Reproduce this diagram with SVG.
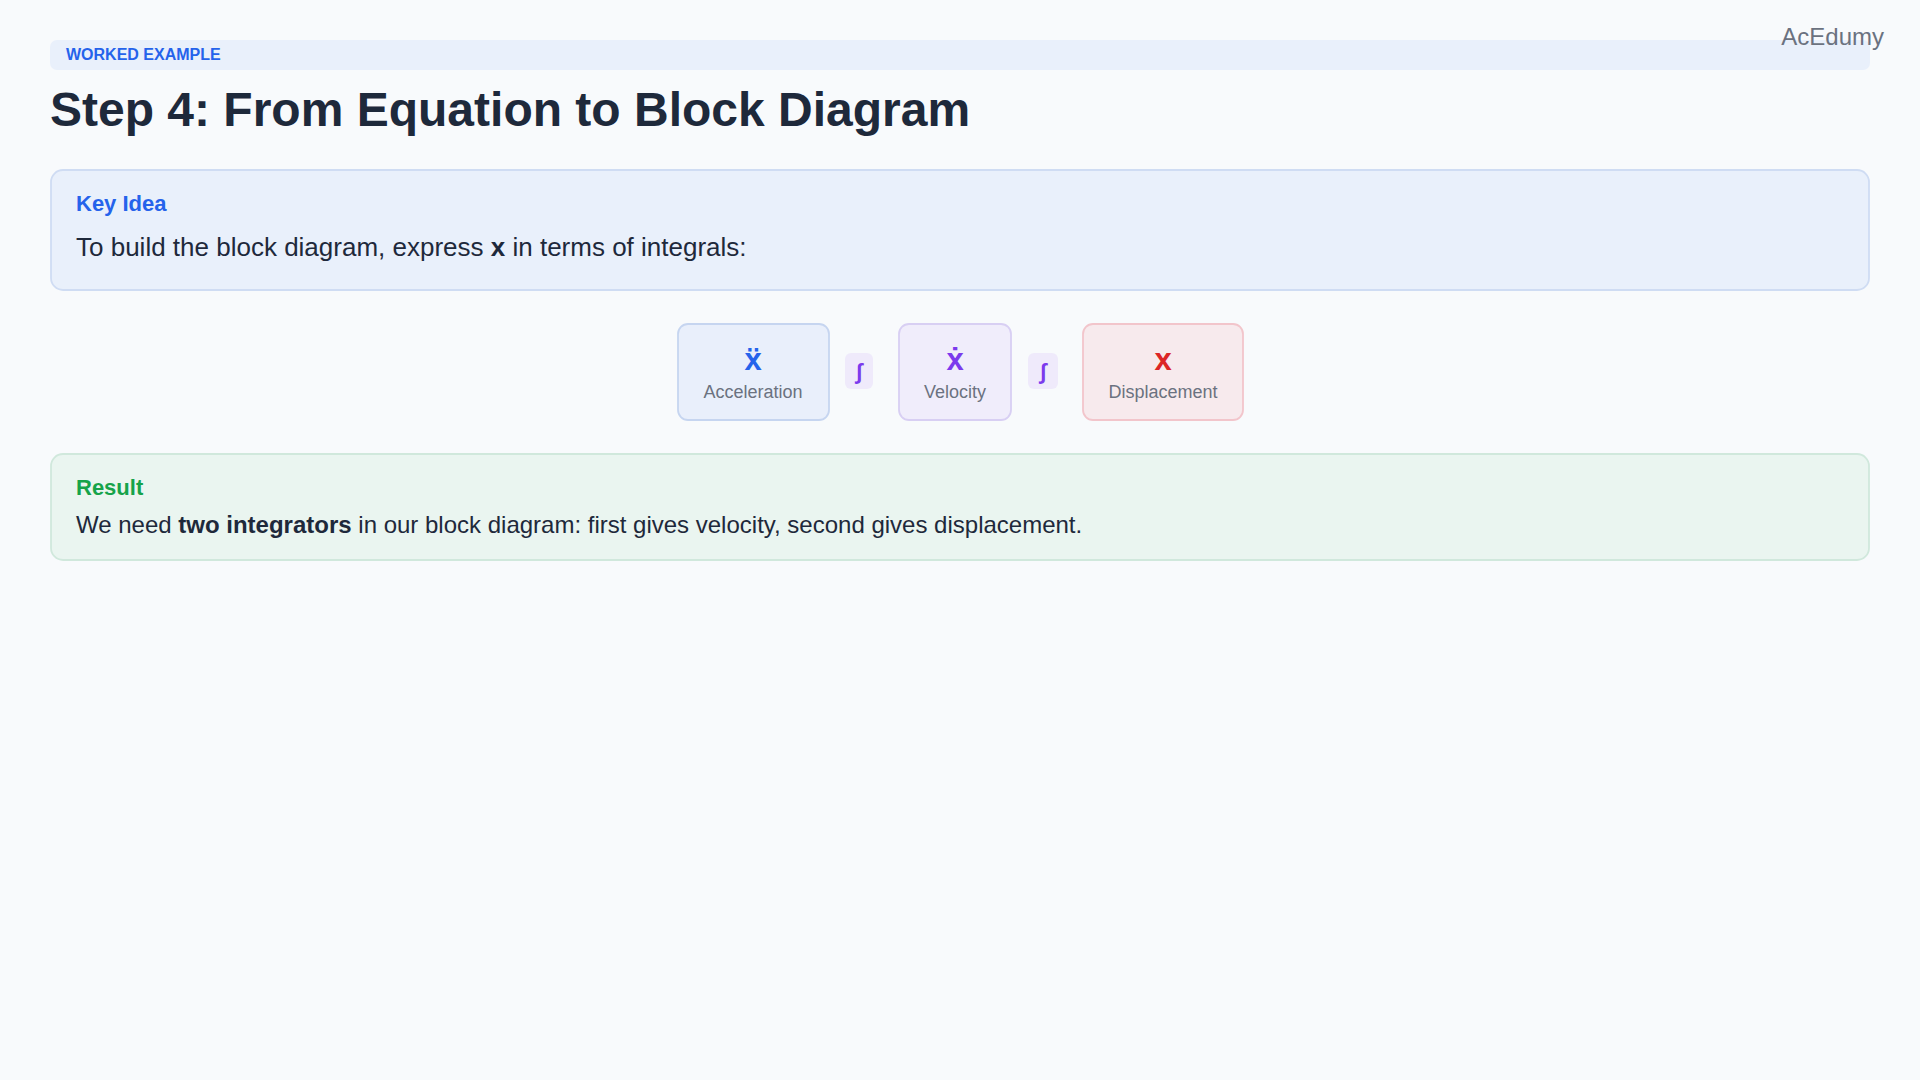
<svg xmlns="http://www.w3.org/2000/svg" width="1920" height="1080" viewBox="0 0 1920 1080">
<style>
text{font-family:"Liberation Sans","DejaVu Sans",Arial,sans-serif}
.bg{fill:#f8fafc}
.badge{fill:#e9f0fb}
.badgeT{font-size:16px;font-weight:700;fill:#2563eb}
.brand{font-size:24px;fill:#6b7280}
.title{font-size:48px;font-weight:700;fill:#1e293b}
.head{font-size:22px;font-weight:700}
.body{fill:#1e293b}
.sym{font-size:31px;font-weight:700;text-anchor:middle}
.lbl{font-size:18px;fill:#6b7280;text-anchor:middle}
.chip{fill:#efeafb}
.chipT{font-size:22px;font-weight:700;fill:#7c3aed;text-anchor:middle}
</style>
<rect class="bg" x="0" y="0" width="1920" height="1080"/>
<g id="badge">
<rect class="badge" x="50" y="40" width="1820" height="30" rx="7"/>
<text class="badgeT" x="66" y="60">WORKED EXAMPLE</text>
</g>
<text class="brand" x="1884" y="45" text-anchor="end">AcEdumy</text>
<text class="title" x="50" y="126">Step 4: From Equation to Block Diagram</text>
<g id="key-idea">
<rect x="51" y="170" width="1818" height="120" rx="12" fill="#e9f0fb" stroke="#cfdcf3" stroke-width="1.8"/>
<text class="head" x="76" y="211" fill="#2563eb">Key Idea</text>
<text class="body" x="76" y="256" font-size="26">To build the block diagram, express <tspan font-weight="700">x</tspan> in terms of integrals:</text>
</g>
<g id="node-acceleration">
<rect x="678" y="324" width="151" height="96" rx="10" fill="#e9effb" stroke="#c6d5f0" stroke-width="1.8"/>
<text class="sym" x="753" y="370" fill="#2563eb">&#x78;&#x308;</text>
<text class="lbl" x="753" y="398">Acceleration</text>
</g>
<g id="connectors">
<g id="int1">
<rect class="chip" x="845" y="353" width="28" height="36" rx="6"/>
<text class="chipT" x="859" y="379">∫</text>
</g>
<g id="int2">
<rect class="chip" x="1028" y="353" width="30" height="36" rx="6"/>
<text class="chipT" x="1043" y="379">∫</text>
</g>
</g>
<g id="node-velocity">
<rect x="899" y="324" width="112" height="96" rx="10" fill="#f0edfb" stroke="#d8cff3" stroke-width="1.8"/>
<text class="sym" x="955" y="370" fill="#7c3aed">&#x78;&#x307;</text>
<text class="lbl" x="955" y="398">Velocity</text>
</g>
<g id="node-displacement">
<rect x="1083" y="324" width="160" height="96" rx="10" fill="#f7eaed" stroke="#f2c5cb" stroke-width="1.8"/>
<text class="sym" x="1163" y="370" fill="#dc2626">x</text>
<text class="lbl" x="1163" y="398">Displacement</text>
</g>
<g id="result">
<rect x="51" y="454" width="1818" height="106" rx="12" fill="#eaf5f0" stroke="#d0e8dc" stroke-width="1.8"/>
<text class="head" x="76" y="495" fill="#16a34a">Result</text>
<text class="body" x="76" y="533" font-size="24">We need <tspan font-weight="700">two integrators</tspan> in our block diagram: first gives velocity, second gives displacement.</text>
</g>
</svg>
